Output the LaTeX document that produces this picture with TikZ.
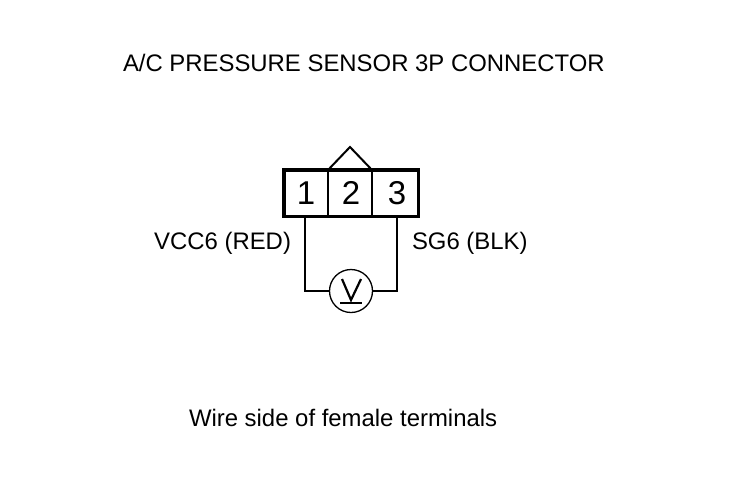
\documentclass[tikz,border=0pt]{standalone}
\usepackage{fontspec}
\setmainfont{Liberation Sans}
\begin{document}
\begin{tikzpicture}[x=1pt,y=-1pt,
  every node/.style={inner sep=0pt,outer sep=0pt},
  label text/.style={font=\fontsize{23.9}{26}\selectfont,text=black},
  digit/.style={font=\fontsize{33}{35}\selectfont},
  wire/.style={line width=1.8pt,line cap=rect}]
\useasboundingbox (0,0) rectangle (736,480);
\fill[white] (0,0) rectangle (736,480);
\node[label text,anchor=base west] (title) at (123,71) {A/C PRESSURE SENSOR 3P CONNECTOR};
\node[label text,anchor=base east] (vcc) at (291,249) {VCC6 (RED)};
\node[label text,anchor=base west] (sg) at (412,249) {SG6 (BLK)};
\node[label text,anchor=base west] (wire side) at (189,426) {Wire side of female terminals};
% connector
\coordinate (boxnw) at (284,170);
\coordinate (boxse) at (418.5,216.5);
\coordinate (d1t) at (328,170);
\coordinate (d1b) at (328,216.5);
\coordinate (d2t) at (372,170);
\coordinate (d2b) at (372,216.5);
\coordinate (apex) at (350,147);
\draw[line width=1.2pt] (d1t) -- (d1b) (d2t) -- (d2b);
\draw[line width=2pt] (d1t) -- (apex) -- (d2t);
\draw[line width=3.6pt] (boxnw) rectangle (boxse);
\node[digit] (n1) at (306,193) {1};
\node[digit] (n2) at (351,193) {2};
\node[digit] (n3) at (397,193) {3};
% meter
\node[circle,draw,line width=1.3pt,minimum size=43pt] (meter) at (351,291) {};
\coordinate (w1) at (305,218);
\coordinate (w3) at (397,218);
\draw[wire] (w1) |- (meter.west);
\draw[wire] (w3) |- (meter.east);
\draw[line width=2.2pt,line join=miter] (342,279) -- (351,300) -- (361,279);
\draw[line width=2.2pt] (340,303) -- (362,303);
\end{tikzpicture}
\end{document}
